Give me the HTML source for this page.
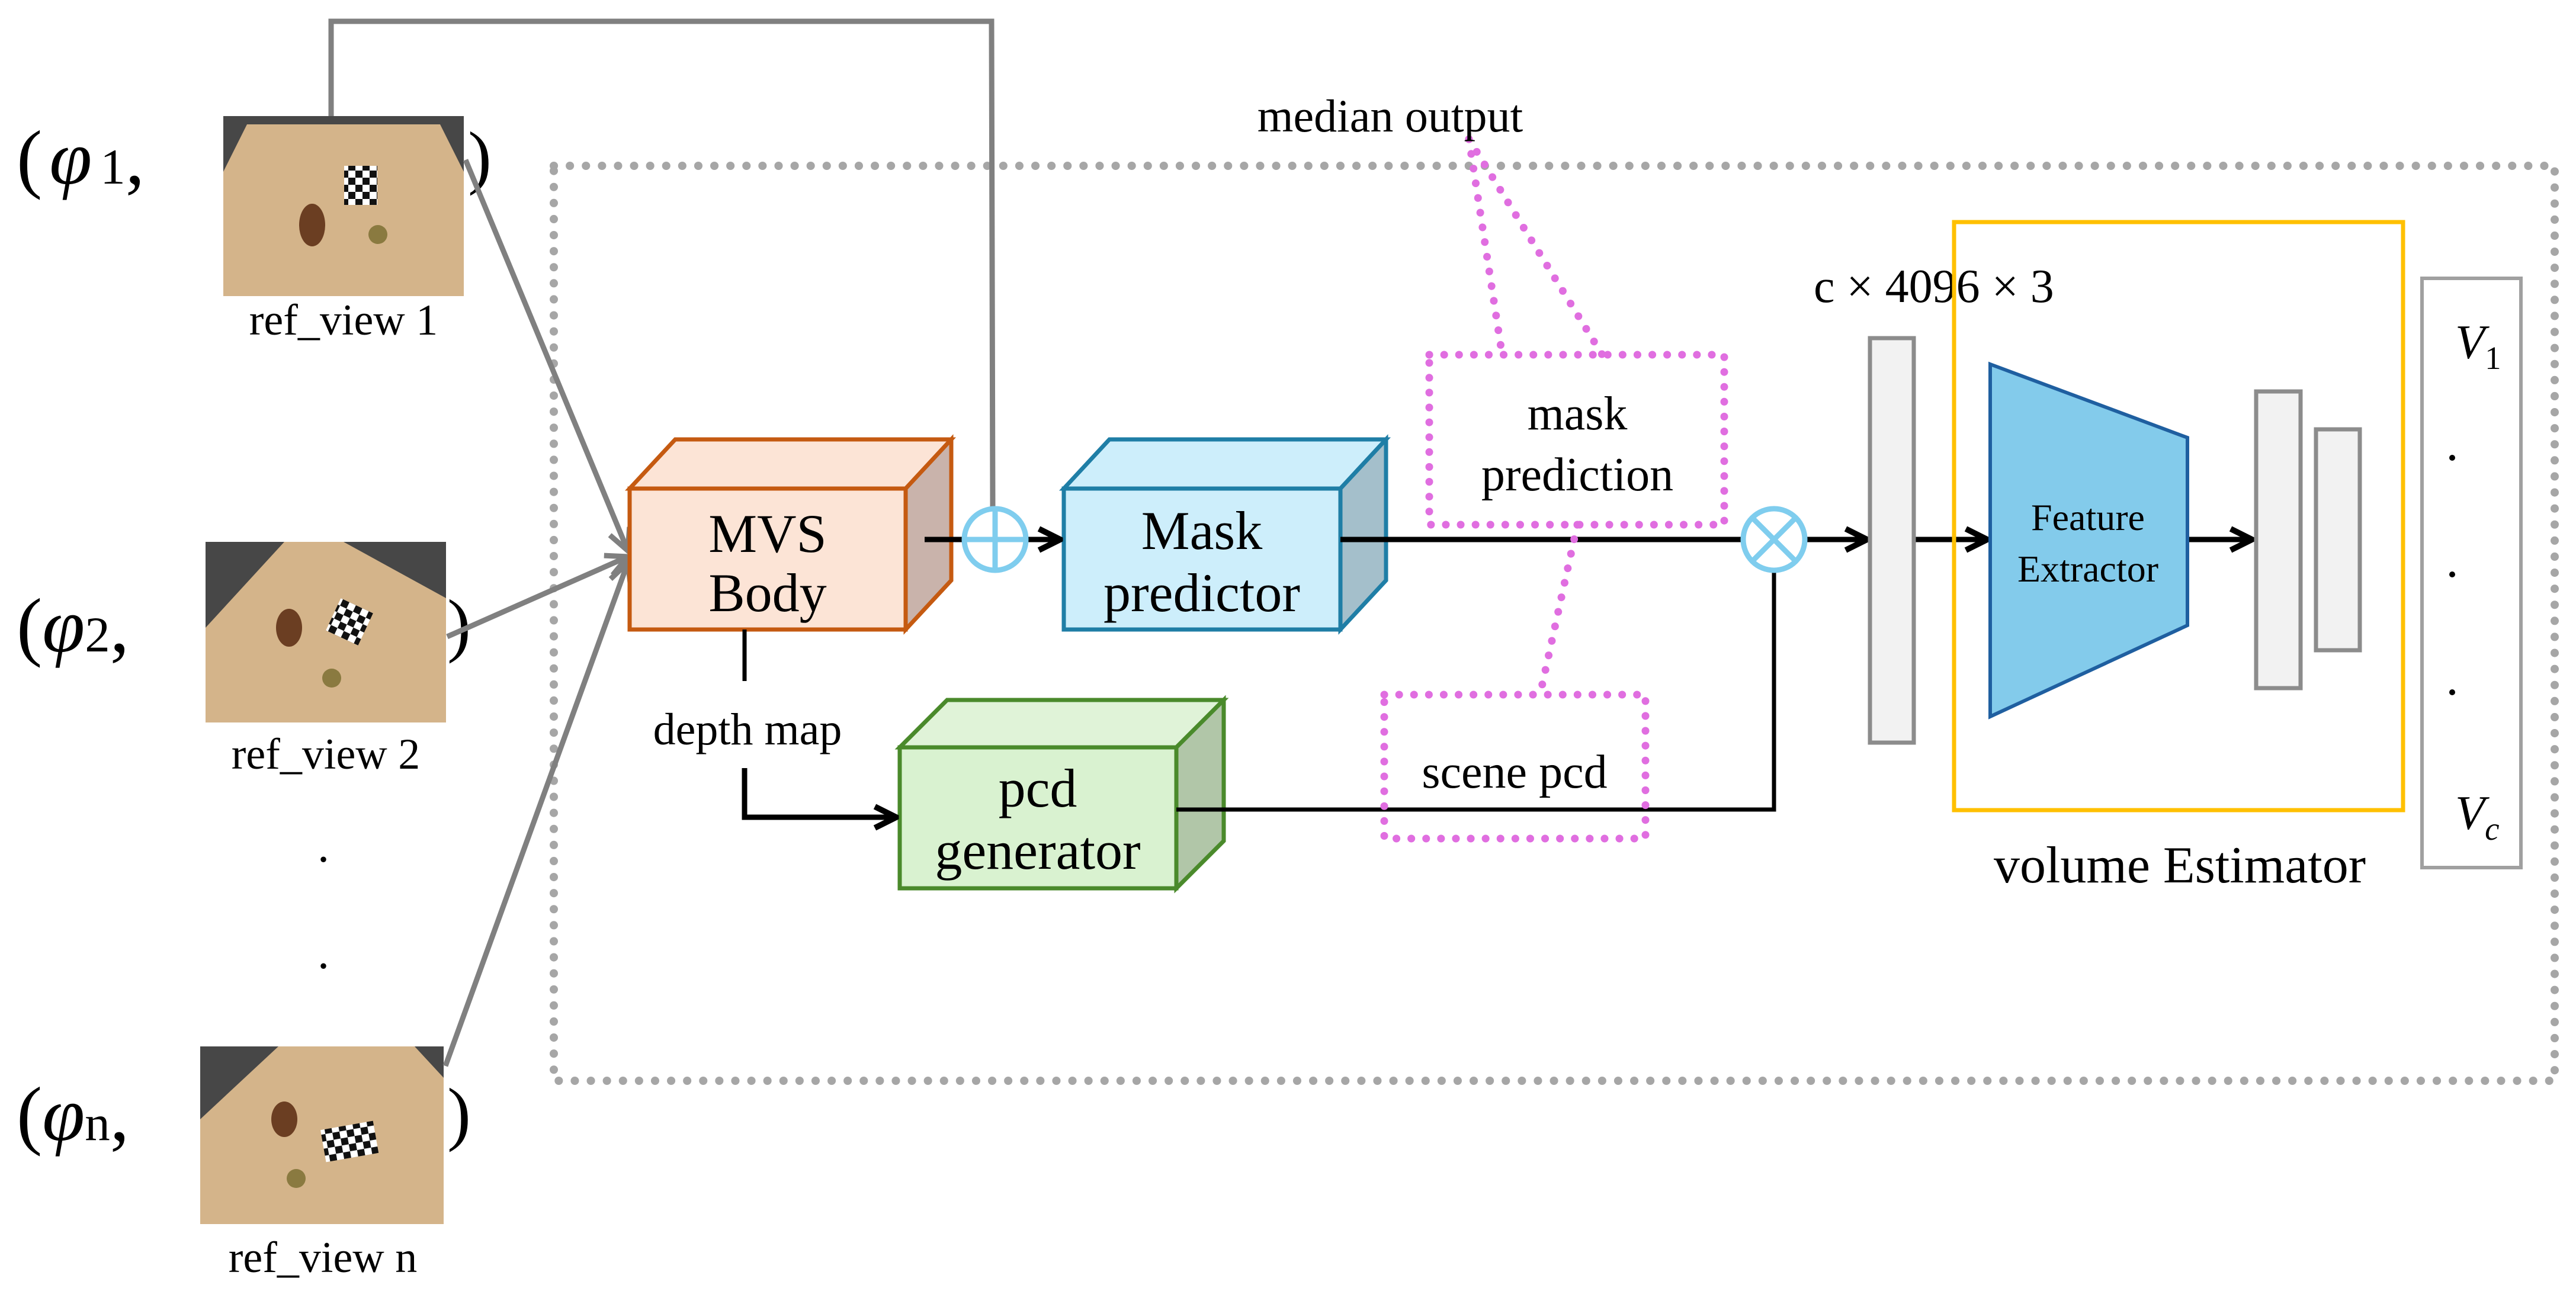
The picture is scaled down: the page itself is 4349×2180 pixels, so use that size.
<!DOCTYPE html>
<html><head><meta charset="utf-8"><style>
html,body{margin:0;padding:0;background:#fff;}
svg{display:block;font-family:"Liberation Serif",serif;}
text{font-family:"Liberation Serif",serif;fill:#000;}
</style></head><body>
<svg width="4349" height="2180" viewBox="0 0 4349 2180" xmlns="http://www.w3.org/2000/svg" font-family="Liberation Serif, serif">
<defs>
<pattern id="chk" width="24" height="24" patternUnits="userSpaceOnUse"><rect width="24" height="24" fill="#fff"/><rect width="12" height="12" fill="#111"/><rect x="12" y="12" width="12" height="12" fill="#111"/></pattern>
<marker id="ag" viewBox="0 0 10 10" refX="9" refY="5" markerWidth="5" markerHeight="5" orient="auto"><path d="M1,1 L9,5 L1,9" fill="none" stroke="#808080" stroke-width="2"/></marker>
<marker id="ab" viewBox="0 0 10 10" refX="9" refY="5" markerWidth="5" markerHeight="5" orient="auto"><path d="M1,1 L9,5 L1,9" fill="none" stroke="#000" stroke-width="2.2"/></marker>
</defs>

<rect x="935" y="280" width="3378" height="1545" fill="none" stroke="#a6a6a6" stroke-width="14" stroke-dasharray="0.1 27" stroke-linecap="round"/>

<g>
<rect x="377" y="196" width="406" height="304" fill="#474747"/>
<polygon points="417,210 743,210 783,290 783,500 377,500 377,290" fill="#d4b48a"/>
<rect x="581" y="280" width="56" height="66" fill="url(#chk)"/>
<ellipse cx="527" cy="380" rx="22" ry="36" fill="#6b3e22"/>
<circle cx="638" cy="396" r="16" fill="#8a7a40"/>
</g>
<g>
<rect x="347" y="915" width="406" height="305" fill="#474747"/>
<polygon points="347,1060 480,915 580,915 753,1010 753,1220 347,1220" fill="#d4b48a"/>
<rect x="560" y="1020" width="60" height="60" fill="url(#chk)" transform="rotate(25 590 1050)"/>
<ellipse cx="488" cy="1060" rx="22" ry="32" fill="#6b3e22"/>
<circle cx="560" cy="1145" r="16" fill="#8a7a40"/>
</g>
<g>
<rect x="338" y="1767" width="411" height="300" fill="#474747"/>
<polygon points="338,1890 470,1767 700,1767 749,1820 749,2067 338,2067" fill="#d4b48a"/>
<rect x="545" y="1900" width="90" height="55" fill="url(#chk)" transform="rotate(-10 590 1927)"/>
<ellipse cx="480" cy="1890" rx="22" ry="30" fill="#6b3e22"/>
<circle cx="500" cy="1990" r="16" fill="#8a7a40"/>
</g>

<text x="580" y="565" font-size="74" text-anchor="middle">ref_view 1</text>
<text x="550" y="1298" font-size="74" text-anchor="middle">ref_view 2</text>
<text x="545" y="2148" font-size="74" text-anchor="middle">ref_view n</text>
<text x="546" y="1455" font-size="80" text-anchor="middle">.</text>
<text x="546" y="1635" font-size="80" text-anchor="middle">.</text>

<text x="28" y="310" font-size="130">(<tspan font-style="italic" dx="12">φ</tspan><tspan font-size="85" dx="14">1</tspan>,</text>
<text x="28" y="1100" font-size="130">(<tspan font-style="italic">φ</tspan><tspan font-size="85">2</tspan>,</text>
<text x="28" y="1925" font-size="130">(<tspan font-style="italic">φ</tspan><tspan font-size="85">n</tspan>,</text>
<text x="790" y="305" font-size="120">)</text>
<text x="755" y="1095" font-size="120">)</text>
<text x="755" y="1920" font-size="120">)</text>

<polyline points="559,196 559,36 1674,36 1676,856" fill="none" stroke="#808080" stroke-width="9"/>
<line x1="786" y1="270" x2="1060" y2="930" stroke="#808080" stroke-width="9" marker-end="url(#ag)"/>
<line x1="755" y1="1075" x2="1060" y2="940" stroke="#808080" stroke-width="9" marker-end="url(#ag)"/>
<line x1="752" y1="1800" x2="1060" y2="950" stroke="#808080" stroke-width="9" marker-end="url(#ag)"/>

<polygon points="1063,825 1140,742 1606,742 1529,825" fill="#fce4d6" stroke="#c55a11" stroke-width="7"/>
<polygon points="1529,825 1606,742 1606,980 1529,1063" fill="#c9b3ab" stroke="#c55a11" stroke-width="7"/>
<rect x="1063" y="825" width="466" height="238" fill="#fce4d6" stroke="#c55a11" stroke-width="7"/>
<text x="1296" y="932" font-size="92" text-anchor="middle">MVS</text>
<text x="1296" y="1032" font-size="92" text-anchor="middle">Body</text>

<polygon points="1796,825 1873,742 2340,742 2263,825" fill="#cdeefb" stroke="#1f7ea6" stroke-width="7"/>
<polygon points="2263,825 2340,742 2340,980 2263,1063" fill="#a4bfcb" stroke="#1f7ea6" stroke-width="7"/>
<rect x="1796" y="825" width="467" height="238" fill="#cdeefb" stroke="#1f7ea6" stroke-width="7"/>
<text x="2029" y="927" font-size="92" text-anchor="middle">Mask</text>
<text x="2029" y="1032" font-size="92" text-anchor="middle">predictor</text>

<polygon points="1519,1262 1599,1182 2066,1182 1986,1262" fill="#e0f3d8" stroke="#4a8a2b" stroke-width="7"/>
<polygon points="1986,1262 2066,1182 2066,1420 1986,1500" fill="#b1c6a8" stroke="#4a8a2b" stroke-width="7"/>
<rect x="1519" y="1262" width="467" height="238" fill="#d9f2d0" stroke="#4a8a2b" stroke-width="7"/>
<text x="1752" y="1362" font-size="92" text-anchor="middle">pcd</text>
<text x="1752" y="1467" font-size="92" text-anchor="middle">generator</text>

<line x1="1561" y1="911" x2="1790" y2="911" stroke="#000" stroke-width="9" marker-end="url(#ab)"/>
<line x1="2263" y1="911" x2="2940" y2="911" stroke="#000" stroke-width="9"/>
<line x1="3051" y1="911" x2="3152" y2="911" stroke="#000" stroke-width="9" marker-end="url(#ab)"/>
<line x1="3231" y1="911" x2="3355" y2="911" stroke="#000" stroke-width="9" marker-end="url(#ab)"/>
<line x1="3693" y1="911" x2="3802" y2="911" stroke="#000" stroke-width="9" marker-end="url(#ab)"/>
<polyline points="1986,1367 2995,1367 2995,967" fill="none" stroke="#000" stroke-width="7"/>
<line x1="1257" y1="1063" x2="1257" y2="1150" stroke="#000" stroke-width="7"/>
<polyline points="1257,1297 1257,1380 1513,1380" fill="none" stroke="#000" stroke-width="9" marker-end="url(#ab)"/>
<text x="1262" y="1257" font-size="76" text-anchor="middle">depth map</text>

<circle cx="1680" cy="911" r="52" fill="none" stroke="#7fcdee" stroke-width="9"/>
<line x1="1628" y1="911" x2="1732" y2="911" stroke="#7fcdee" stroke-width="9"/>
<line x1="1680" y1="859" x2="1680" y2="963" stroke="#7fcdee" stroke-width="9"/>
<circle cx="2995" cy="911" r="52" fill="#fff" stroke="#7fcdee" stroke-width="9"/>
<line x1="2958" y1="874" x2="3032" y2="948" stroke="#7fcdee" stroke-width="9"/>
<line x1="3032" y1="874" x2="2958" y2="948" stroke="#7fcdee" stroke-width="9"/>

<g fill="none" stroke="#e06ee0" stroke-width="13" stroke-dasharray="0.1 25" stroke-linecap="round">
<rect x="2413" y="599" width="498" height="287"/>
<rect x="2337" y="1173" width="441" height="243"/>
<line x1="2480" y1="235" x2="2536" y2="599"/>
<line x1="2480" y1="235" x2="2705" y2="599"/>
<line x1="2663" y1="886" x2="2600" y2="1173"/>
</g>
<text x="2347" y="222" font-size="78" text-anchor="middle">median output</text>
<text x="2663" y="725" font-size="80" text-anchor="middle">mask</text>
<text x="2663" y="828" font-size="80" text-anchor="middle">prediction</text>
<text x="2557" y="1330" font-size="80" text-anchor="middle">scene pcd</text>

<text x="3062" y="510" font-size="80">c × 4096 × 3</text>
<rect x="3157" y="571" width="74" height="683" fill="#f2f2f2" stroke="#8c8c8c" stroke-width="7"/>
<rect x="3299" y="375" width="758" height="993" fill="none" stroke="#ffc000" stroke-width="7"/>
<polygon points="3360,615 3693,739 3693,1056 3360,1210" fill="#83cbeb" stroke="#1f5fa0" stroke-width="6"/>
<text x="3525" y="895" font-size="64" text-anchor="middle">Feature</text>
<text x="3525" y="982" font-size="64" text-anchor="middle">Extractor</text>
<rect x="3809" y="661" width="75" height="501" fill="#f2f2f2" stroke="#8c8c8c" stroke-width="7"/>
<rect x="3910" y="725" width="74" height="373" fill="#f2f2f2" stroke="#8c8c8c" stroke-width="7"/>
<text x="3680" y="1490" font-size="88" text-anchor="middle">volume Estimator</text>
<rect x="4089" y="470" width="167" height="995" fill="#fff" stroke="#a0a0a0" stroke-width="6"/>
<text x="4145" y="605" font-size="82" font-style="italic">V<tspan font-size="55" font-style="normal" dy="18">1</tspan></text>
<circle cx="4140" cy="773" r="5" fill="#000"/>
<circle cx="4140" cy="970" r="5" fill="#000"/>
<circle cx="4140" cy="1169" r="5" fill="#000"/>
<text x="4145" y="1400" font-size="82" font-style="italic">V<tspan font-size="55" dy="18">c</tspan></text>
</svg>
</body></html>
